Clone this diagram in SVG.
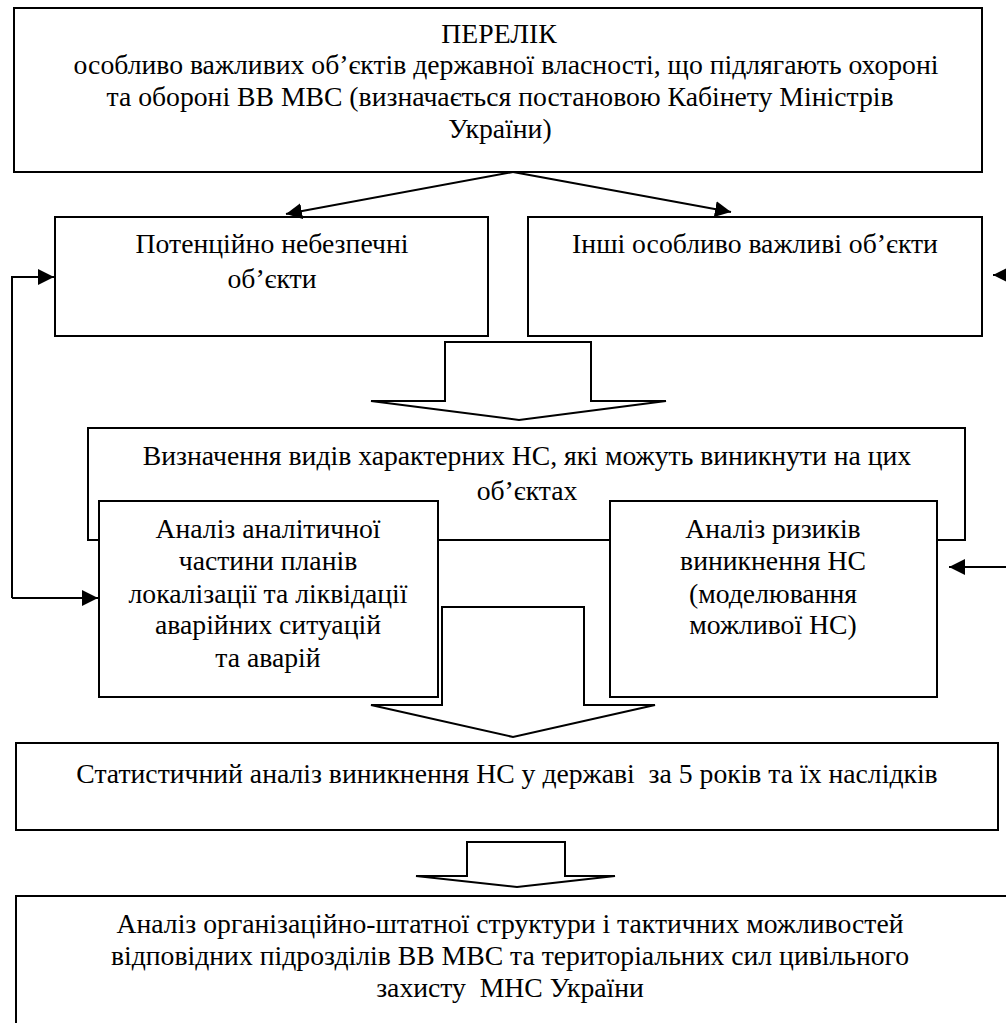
<svg xmlns="http://www.w3.org/2000/svg" width="1006" height="1023" viewBox="0 0 1006 1023">
<style>
.box{fill:#fff;stroke:#000;stroke-width:2}
.ln{fill:none;stroke:#000;stroke-width:2}
.blk{fill:#fff;stroke:#000;stroke-width:2;stroke-linejoin:miter}
text{font-family:"Liberation Serif","Times New Roman",serif;font-size:27.7px;fill:#000;text-anchor:middle;dominant-baseline:central;white-space:pre}
</style>
<defs>
<marker id="ah" viewBox="0 0 10 10" refX="10" refY="5" markerWidth="16" markerHeight="16" markerUnits="userSpaceOnUse" orient="auto">
<path d="M0,0 L10,5 L0,10 Z" fill="#000"/>
</marker>
</defs>
<rect width="1006" height="1023" fill="#fff"/>
<g id="n-perelik">
<rect class="box" x="14" y="8" width="968" height="164"/>
<text x="499" y="33">ПЕРЕЛІК</text>
<text x="506" y="64">особливо важливих об’єктів державної власності, що підлягають охороні</text>
<text x="500" y="96">та обороні ВВ МВС (визначається постановою Кабінету Міністрів</text>
<text x="500" y="128">України)</text>
</g>
<g id="n-potential">
<rect class="box" x="55" y="217" width="433" height="119"/>
<text x="272" y="243">Потенційно небезпечні</text>
<text x="272" y="278">об’єкти</text>
</g>
<g id="n-other">
<rect class="box" x="528" y="217" width="454" height="119"/>
<text x="755" y="243">Інші особливо важливі об’єкти</text>
</g>
<g id="n-types">
<rect class="box" x="88" y="428" width="877" height="112"/>
<text x="527" y="455">Визначення видів характерних НС, які можуть виникнути на цих</text>
<text x="527" y="490">об’єктах</text>
</g>
<g id="n-plans">
<rect class="box" x="99" y="501" width="339" height="196"/>
<text x="268" y="528">Аналіз аналітичної</text>
<text x="268" y="560">частини планів</text>
<text x="268" y="593">локалізації та ліквідації</text>
<text x="268" y="624">аварійних ситуацій</text>
<text x="268" y="657">та аварій</text>
</g>
<g id="n-risk">
<rect class="box" x="610" y="501" width="327" height="196"/>
<text x="773" y="528">Аналіз ризиків</text>
<text x="773" y="560">виникнення НС</text>
<text x="773" y="593">(моделювання</text>
<text x="773" y="624">можливої НС)</text>
</g>
<g id="n-stat">
<rect class="box" x="16" y="743" width="982" height="87"/>
<text x="507" y="773">Статистичний аналіз виникнення НС у державі  за 5 років та їх наслідків</text>
</g>
<g id="n-org">
<rect class="box" x="16" y="896" width="1000" height="140"/>
<text x="510" y="923">Аналіз організаційно-штатної структури і тактичних можливостей</text>
<text x="510" y="955">відповідних підрозділів ВВ МВС та територіальних сил цивільного</text>
<text x="510" y="987">захисту  МНС України</text>
</g>
<g id="connectors">
<line class="ln" x1="513" y1="172" x2="286" y2="214" marker-end="url(#ah)"/>
<line class="ln" x1="513" y1="172" x2="731" y2="212" marker-end="url(#ah)"/>
<polyline class="ln" points="12,598 12,277 54,277" marker-end="url(#ah)"/>
<line class="ln" x1="12" y1="598" x2="98" y2="598" marker-end="url(#ah)"/>
<line class="ln" x1="1012" y1="275" x2="993" y2="275" marker-end="url(#ah)"/>
<line class="ln" x1="1008" y1="567" x2="949" y2="567" marker-end="url(#ah)"/>
<polygon class="blk" points="445,342 591,342 591,401 666,401 519,420 371,401 445,401"/>
<polygon class="blk" points="442,607 584,607 584,705 655,705 513,737 371,705 442,705"/>
<polygon class="blk" points="467,842 565,842 565,876 615,876 517,887 416,876 467,876"/>
</g>
</svg>
